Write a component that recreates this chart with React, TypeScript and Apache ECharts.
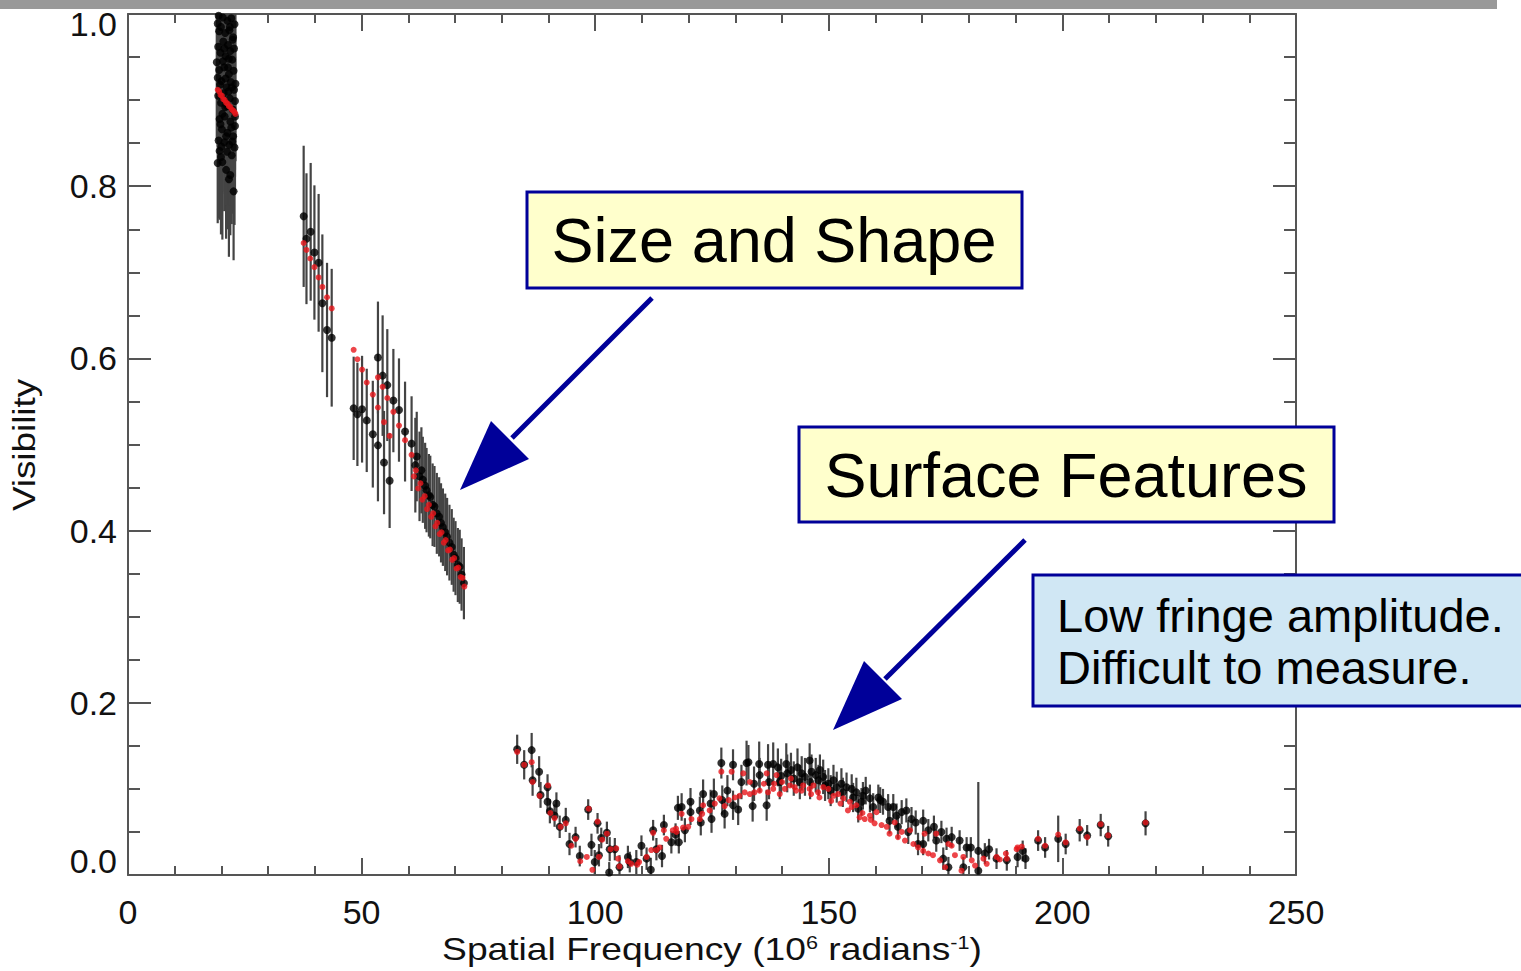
import React, { useEffect, useRef } from "react";
import * as echarts from "echarts";

type Obs = [number, number, number];
type Mod = [number, number];

// ---------- Data (x: spatial frequency, y: visibility, e: error) ----------
const obsShortBaseline: Obs[] = [
  [19.2, 0.989, 0.08], [19.0, 0.944, 0.09], [19.2, 0.926, 0.08], [19.6, 0.841, 0.08], [19.2, 0.827, 0.07],
  [20.2, 0.828, 0.09], [21.0, 0.819, 0.08], [21.6, 0.808, 0.09], [21.9, 0.813, 0.07], [22.6, 0.794, 0.08],
  [23.0, 0.919, 0.09], [22.9, 0.870, 0.08], [22.9, 0.881, 0.07],
  [19.4, 0.998, 0.08], [19.9, 0.985, 0.09], [20.3, 0.996, 0.07], [20.8, 0.978, 0.08], [21.3, 0.992, 0.09],
  [21.7, 0.981, 0.08], [22.1, 0.995, 0.07], [22.5, 0.973, 0.08], [22.8, 0.988, 0.09],
  [19.3, 0.962, 0.08], [19.8, 0.955, 0.07], [20.4, 0.968, 0.09], [20.9, 0.951, 0.08], [21.4, 0.964, 0.08],
  [21.9, 0.957, 0.09], [22.3, 0.947, 0.08], [22.7, 0.960, 0.07],
  [19.5, 0.935, 0.09], [20.0, 0.922, 0.08], [20.6, 0.938, 0.08], [21.1, 0.915, 0.09], [21.6, 0.930, 0.07],
  [22.0, 0.921, 0.08], [22.6, 0.934, 0.09],
  [19.3, 0.905, 0.08], [19.9, 0.897, 0.09], [20.5, 0.908, 0.07], [21.2, 0.893, 0.08], [21.8, 0.902, 0.08],
  [22.4, 0.889, 0.09], [22.9, 0.899, 0.08],
  [19.6, 0.878, 0.08], [20.1, 0.866, 0.07], [20.7, 0.881, 0.09], [21.3, 0.862, 0.08], [21.9, 0.875, 0.08],
  [22.5, 0.858, 0.09],
  [19.4, 0.853, 0.09], [20.0, 0.846, 0.08], [20.6, 0.851, 0.08], [21.2, 0.840, 0.09], [21.7, 0.848, 0.07],
  [22.2, 0.836, 0.08], [22.8, 0.845, 0.09],
  [19.8, 0.872, 0.08], [20.9, 0.925, 0.08], [21.5, 0.910, 0.09], [22.2, 0.915, 0.08], [20.3, 0.945, 0.07],
  [21.6, 0.948, 0.08], [22.4, 0.970, 0.09], [19.5, 0.980, 0.08], [20.6, 0.960, 0.09],
  [19.7, 0.918, 0.08], [20.8, 0.892, 0.08], [22.1, 0.868, 0.09], [21.0, 0.858, 0.08], [22.7, 0.912, 0.08],
  [20.2, 0.884, 0.09], [21.4, 0.938, 0.08], [22.3, 0.852, 0.08], [19.9, 0.834, 0.09], [21.8, 0.985, 0.08],
];

const obsMidA: Obs[] = [
  [37.6, 0.765, 0.082], [38.2, 0.739, 0.076], [39.1, 0.747, 0.08], [39.9, 0.723, 0.078],
  [40.8, 0.711, 0.08], [41.6, 0.664, 0.08], [42.6, 0.633, 0.078], [43.6, 0.624, 0.08],
];

const obsMidB: Obs[] = [
  [48.3, 0.542, 0.06], [49.1, 0.535, 0.06], [50.1, 0.541, 0.062], [51.1, 0.528, 0.06], [52.4, 0.512, 0.062],
  [53.5, 0.499, 0.065], [53.5, 0.601, 0.065], [54.5, 0.580, 0.07], [54.8, 0.479, 0.06], [55.5, 0.569, 0.065],
  [56.0, 0.458, 0.055], [56.8, 0.551, 0.06], [58.0, 0.540, 0.06], [59.3, 0.515, 0.058],
];

const obsMidC: Obs[] = [
  [60.7, 0.501, 0.055], [61.5, 0.476, 0.055], [61.8, 0.486, 0.052], [62.4, 0.463, 0.052], [62.8, 0.470, 0.05],
  [63.1, 0.459, 0.05], [63.6, 0.452, 0.05], [63.9, 0.447, 0.049], [64.4, 0.441, 0.048], [64.7, 0.439, 0.048],
  [65.2, 0.430, 0.048], [65.6, 0.428, 0.047], [66.1, 0.420, 0.047], [66.6, 0.416, 0.046], [67.0, 0.409, 0.046],
  [67.4, 0.404, 0.045], [67.9, 0.398, 0.045], [68.3, 0.393, 0.045], [68.8, 0.386, 0.044], [69.3, 0.381, 0.044],
  [69.7, 0.372, 0.043], [70.1, 0.368, 0.043], [70.6, 0.360, 0.043], [71.0, 0.358, 0.043], [71.4, 0.349, 0.042],
  [71.9, 0.339, 0.042],
];

const obsFirstNull: Obs[] = [
  [83.3, 0.146, 0.017], [84.8, 0.128, 0.017], [86.4, 0.145, 0.02], [86.6, 0.110, 0.018], [88.0, 0.120, 0.018],
  [88.3, 0.093, 0.015], [89.8, 0.102, 0.015], [89.8, 0.085, 0.014], [90.3, 0.074, 0.014], [91.3, 0.069, 0.013],
  [91.7, 0.083, 0.013], [92.4, 0.056, 0.013], [93.7, 0.064, 0.014], [94.5, 0.036, 0.013], [95.8, 0.044, 0.012],
  [96.7, 0.022, 0.012], [98.5, 0.076, 0.012], [99.2, 0.035, 0.013], [99.9, 0.015, 0.014], [100.5, 0.060, 0.012],
  [100.8, 0.023, 0.013], [101.3, 0.043, 0.012], [102.5, 0.049, 0.013], [103.0, 0.003, 0.012], [103.1, 0.030, 0.014],
  [104.2, 0.030, 0.013], [105.2, 0.009, 0.014], [107.0, 0.021, 0.013], [107.4, 0.015, 0.012], [108.8, 0.015, 0.014],
  [109.9, 0.034, 0.012], [111.0, 0.019, 0.013], [111.9, 0.006, 0.014], [112.4, 0.052, 0.012], [113.1, 0.030, 0.013],
  [114.3, 0.022, 0.013], [114.7, 0.058, 0.012], [116.3, 0.038, 0.013], [117.2, 0.047, 0.013], [117.7, 0.078, 0.014],
];

const obsSecondLobe: Obs[] = [
  [117.9, 0.038, 0.013], [118.5, 0.079, 0.016], [119.2, 0.052, 0.014], [120.4, 0.085, 0.016], [120.4, 0.073, 0.015],
  [122.4, 0.075, 0.016], [122.6, 0.061, 0.015], [123.1, 0.094, 0.017], [124.7, 0.083, 0.016], [124.9, 0.065, 0.016],
  [125.4, 0.094, 0.018], [127.0, 0.130, 0.018], [127.2, 0.087, 0.017], [127.7, 0.071, 0.017], [128.3, 0.098, 0.018],
  [129.5, 0.128, 0.018], [129.5, 0.081, 0.017], [130.6, 0.076, 0.018], [131.3, 0.108, 0.02], [132.4, 0.130, 0.026],
  [132.8, 0.131, 0.02], [133.7, 0.080, 0.018], [134.0, 0.106, 0.02], [135.1, 0.129, 0.026], [135.2, 0.116, 0.02],
  [136.7, 0.081, 0.018], [137.0, 0.128, 0.024], [137.2, 0.108, 0.02], [138.1, 0.129, 0.025], [139.1, 0.125, 0.022],
  [139.5, 0.108, 0.02], [140.9, 0.129, 0.024], [141.1, 0.118, 0.022], [141.9, 0.122, 0.02], [143.3, 0.125, 0.022],
  [144.2, 0.118, 0.02], [144.9, 0.114, 0.022], [145.9, 0.133, 0.02], [146.3, 0.120, 0.02], [147.2, 0.116, 0.02],
  [148.1, 0.122, 0.018], [148.8, 0.114, 0.02], [149.2, 0.104, 0.018], [151.0, 0.110, 0.018], [151.7, 0.102, 0.018],
  [139.8, 0.115, 0.02], [142.5, 0.112, 0.02], [143.8, 0.108, 0.02], [146.0, 0.108, 0.02], [147.8, 0.110, 0.018],
  [149.9, 0.106, 0.018], [150.4, 0.098, 0.018], [153.0, 0.096, 0.017], [155.2, 0.090, 0.017], [157.0, 0.085, 0.016],
  [152.7, 0.106, 0.018], [153.8, 0.102, 0.017], [154.9, 0.100, 0.017], [155.9, 0.096, 0.017], [156.3, 0.077, 0.016],
  [157.3, 0.092, 0.016], [157.9, 0.098, 0.016], [158.8, 0.089, 0.016], [159.5, 0.079, 0.016], [160.6, 0.090, 0.015],
  [161.0, 0.087, 0.015], [161.6, 0.085, 0.015], [162.7, 0.079, 0.015], [163.0, 0.063, 0.015], [163.8, 0.079, 0.015],
  [164.5, 0.069, 0.014], [164.8, 0.056, 0.014], [165.6, 0.073, 0.014], [166.6, 0.075, 0.014], [167.0, 0.050, 0.014],
  [167.7, 0.065, 0.014], [168.6, 0.061, 0.014], [169.1, 0.036, 0.013], [170.2, 0.063, 0.013], [170.2, 0.036, 0.013],
  [171.3, 0.052, 0.013], [172.5, 0.056, 0.013], [173.0, 0.040, 0.013], [174.1, 0.050, 0.013], [174.5, 0.019, 0.013],
  [175.2, 0.042, 0.013], [175.6, 0.009, 0.012], [176.3, 0.044, 0.012], [178.0, 0.040, 0.012], [178.8, 0.009, 0.012],
  [179.5, 0.032, 0.012], [180.4, 0.032, 0.012], [182.0, 0.028, 0.08], [182.0, 0.005, 0.012], [183.4, 0.025, 0.012],
  [184.3, 0.030, 0.012], [185.9, 0.019, 0.012], [188.1, 0.017, 0.012],
];

const obsTail: Obs[] = [
  [190.4, 0.021, 0.012], [191.5, 0.028, 0.012], [192.1, 0.019, 0.012], [194.8, 0.040, 0.012], [196.3, 0.032, 0.012],
  [199.1, 0.042, 0.027], [200.7, 0.036, 0.012], [203.7, 0.052, 0.013], [205.3, 0.046, 0.012], [208.2, 0.058, 0.013],
  [209.8, 0.045, 0.012], [217.8, 0.060, 0.014],
];

const modelShortBaseline: Mod[] = [
  [19.2, 0.912], [19.5, 0.910], [19.8, 0.906], [20.1, 0.905], [20.4, 0.901], [20.7, 0.900], [21.0, 0.897],
  [21.3, 0.896], [21.6, 0.893], [21.9, 0.892], [22.2, 0.889], [22.5, 0.888], [22.8, 0.886], [23.0, 0.884],
];

const modelMid: Mod[] = [
  [37.6, 0.734], [38.2, 0.726], [39.0, 0.716], [39.9, 0.706], [40.8, 0.694], [41.6, 0.683], [42.6, 0.671], [43.6, 0.658],
  [48.3, 0.610], [49.1, 0.599], [50.1, 0.587], [51.1, 0.572], [52.4, 0.558], [53.5, 0.578], [53.5, 0.543],
  [54.5, 0.567], [54.8, 0.526], [55.5, 0.554], [56.0, 0.510], [56.8, 0.538], [58.0, 0.522], [59.3, 0.505],
  [60.7, 0.488], [61.2, 0.463], [61.6, 0.470], [62.1, 0.449], [62.6, 0.455], [63.0, 0.436], [63.5, 0.440],
  [64.0, 0.425], [64.4, 0.430], [64.9, 0.416], [65.3, 0.420], [65.8, 0.405], [66.2, 0.409], [66.7, 0.396],
  [67.1, 0.398], [67.6, 0.386], [68.0, 0.389], [68.5, 0.377], [68.9, 0.378], [69.4, 0.366], [69.8, 0.368],
  [70.3, 0.356], [70.7, 0.357], [71.2, 0.346], [71.6, 0.345], [72.0, 0.335],
];

const modelFirstNull: Mod[] = [
  [83.3, 0.143], [84.8, 0.128], [86.4, 0.131], [86.6, 0.108], [88.1, 0.092], [89.9, 0.104], [90.4, 0.072],
  [91.3, 0.066], [92.6, 0.056], [93.7, 0.060], [94.9, 0.034], [95.8, 0.042], [96.8, 0.016], [98.2, 0.021],
  [98.6, 0.077], [99.4, 0.006], [100.5, 0.062], [100.8, 0.021], [101.5, 0.041], [102.5, 0.048], [103.3, 0.030],
  [104.5, 0.031], [104.9, 0.019], [105.2, 0.010], [107.0, 0.016], [107.7, 0.013], [109.0, 0.012], [109.4, 0.015],
  [111.0, 0.021], [112.0, 0.029], [112.4, 0.049], [113.1, 0.029], [113.8, 0.032], [114.7, 0.052], [115.2, 0.042],
  [116.6, 0.052], [117.3, 0.054],
];

const modelSecondLobe: Mod[] = [
  [117.4, 0.050], [118.5, 0.071], [118.8, 0.055], [119.9, 0.056], [120.6, 0.065], [122.4, 0.065], [122.9, 0.071],
  [123.1, 0.081], [124.5, 0.075], [125.6, 0.083], [126.6, 0.089], [127.0, 0.120], [127.7, 0.080], [128.6, 0.087],
  [129.2, 0.120], [129.9, 0.090], [130.9, 0.092], [131.7, 0.118], [132.0, 0.096], [133.1, 0.108], [133.1, 0.094],
  [134.1, 0.096], [135.2, 0.098], [136.1, 0.106], [136.7, 0.118], [137.0, 0.096], [138.1, 0.100], [138.8, 0.116],
  [139.5, 0.094], [140.6, 0.100], [141.7, 0.104], [141.9, 0.112], [142.7, 0.102], [144.2, 0.098], [144.5, 0.104],
  [145.9, 0.100], [146.7, 0.104], [147.7, 0.096], [148.8, 0.102], [149.9, 0.100], [151.0, 0.092], [152.0, 0.094],
  [138.3, 0.106], [140.0, 0.108], [143.0, 0.098], [146.2, 0.094], [148.0, 0.090], [150.5, 0.086], [152.5, 0.083],
  [154.5, 0.085], [157.2, 0.072], [159.0, 0.064],
  [153.1, 0.089], [154.1, 0.075], [154.9, 0.079], [155.9, 0.081], [156.6, 0.067], [157.7, 0.065], [158.8, 0.069],
  [159.8, 0.060], [160.2, 0.073], [161.3, 0.058], [162.4, 0.056], [163.0, 0.048], [164.1, 0.061], [164.8, 0.044],
  [165.6, 0.050], [166.3, 0.040], [167.4, 0.052], [168.1, 0.036], [169.1, 0.032], [170.2, 0.028], [170.5, 0.048],
  [171.3, 0.025], [172.3, 0.023], [173.0, 0.048], [173.8, 0.017], [174.9, 0.009], [175.6, 0.036], [176.3, 0.034],
  [177.0, 0.023], [178.4, 0.005], [178.8, 0.021], [180.6, 0.017], [181.3, 0.011], [183.1, 0.019], [183.8, 0.013],
  [185.9, 0.021], [186.6, 0.018], [187.9, 0.025], [188.1, 0.019],
];

const modelTail: Mod[] = [
  [190.2, 0.030], [190.4, 0.032], [191.3, 0.033], [194.8, 0.042], [196.3, 0.034], [199.1, 0.047], [200.7, 0.038],
  [203.7, 0.054], [205.3, 0.044], [208.2, 0.059], [209.8, 0.046], [217.8, 0.061],
];

const xTitle = "{a|Spatial Frequency (10}{s|6}{a| radians}{s|-1}{a|)}";
const yTitle = "Visibility";
const note1 = "Size and Shape";
const note2 = "Surface Features";
const note3a = "Low fringe amplitude.";
const note3b = "Difficult to measure.";

const allObs: Obs[] = [
  ...obsShortBaseline, ...obsMidA, ...obsMidB, ...obsMidC, ...obsFirstNull, ...obsSecondLobe, ...obsTail,
];
const allModel: Mod[] = [
  ...modelShortBaseline, ...modelMid, ...modelFirstNull, ...modelSecondLobe, ...modelTail,
];

const FONT = '"Liberation Sans", Arial, Helvetica, sans-serif';
const AXIS_COLOR = "#555";
const NAVY = "#000099";

export default function App() {
  const ref = useRef<HTMLDivElement | null>(null);

  useEffect(() => {
    if (!ref.current) return;
    const chart = echarts.init(ref.current, undefined, { renderer: "svg" });

    const xAxisBase = {
      type: "value",
      min: 0,
      max: 250,
      interval: 50,
      gridIndex: 0,
      splitLine: { show: false },
      minorSplitLine: { show: false },
      axisLine: { show: true, onZero: false, lineStyle: { color: AXIS_COLOR, width: 2 } },
      axisTick: { show: true, inside: true, length: 17, lineStyle: { color: AXIS_COLOR, width: 2 } },
      minorTick: { show: true, splitNumber: 5, length: 9, lineStyle: { color: AXIS_COLOR, width: 2 } },
    };
    const yAxisBase = {
      type: "value",
      min: 0,
      max: 1,
      interval: 0.2,
      gridIndex: 0,
      splitLine: { show: false },
      minorSplitLine: { show: false },
      axisLine: { show: true, onZero: false, lineStyle: { color: AXIS_COLOR, width: 2 } },
      axisTick: { show: true, inside: true, length: 23, lineStyle: { color: AXIS_COLOR, width: 2 } },
      minorTick: { show: true, splitNumber: 4, length: 12, lineStyle: { color: AXIS_COLOR, width: 2 } },
    };

    const labelFont = { fontSize: 34, fontFamily: FONT, color: "#111" };

    const textStyle = (text: string, size: number, align: string) => ({
      text,
      fontSize: size,
      fontFamily: FONT,
      fill: "#000",
      align,
      verticalAlign: "middle",
      textAlign: align,
      textVerticalAlign: "middle",
    });

    const Z = 1000;

    chart.setOption({
      animation: false,
      backgroundColor: "#ffffff",
      grid: { left: 128, top: 14, right: 225, bottom: 96, containLabel: false },
      xAxis: [
        {
          ...xAxisBase,
          position: "bottom",
          axisLabel: { show: true, margin: 20, ...labelFont },
        },
        {
          ...xAxisBase,
          position: "top",
          axisLabel: { show: false },
        },
      ],
      yAxis: [
        {
          ...yAxisBase,
          position: "left",
          axisLabel: {
            show: true,
            margin: 11,
            ...labelFont,
            formatter: (v: number) =>
              v === 1 ? "{t|1.0}" : v === 0 ? "{b|0.0}" : v.toFixed(1),
            rich: {
              t: { ...labelFont, padding: [20, 0, 0, 0] },
              b: { ...labelFont, padding: [0, 0, 28, 0] },
            },
          },
        },
        {
          ...yAxisBase,
          position: "right",
          axisLabel: { show: false },
        },
      ],
      series: [
        {
          type: "custom",
          name: "errors",
          xAxisIndex: 0,
          yAxisIndex: 0,
          clip: true,
          data: allObs,
          encode: { x: 0, y: 1 },
          renderItem: (params: any, api: any) => {
            const x = api.value(0);
            const y = api.value(1);
            const e = api.value(2);
            const p1 = api.coord([x, y - e]);
            const p2 = api.coord([x, y + e]);
            return {
              type: "line",
              shape: { x1: p1[0], y1: p1[1], x2: p2[0], y2: p2[1] },
              style: { stroke: "#444444", lineWidth: 2.2 },
            };
          },
        },
        {
          type: "scatter",
          name: "observed",
          xAxisIndex: 0,
          yAxisIndex: 0,
          data: allObs.map((d) => [d[0], d[1]]),
          symbol: "circle",
          symbolSize: 8,
          itemStyle: { color: "#000000" },
        },
        {
          type: "scatter",
          name: "model",
          xAxisIndex: 0,
          yAxisIndex: 0,
          data: allModel,
          symbol: "circle",
          symbolSize: 6,
          itemStyle: { color: "#e8161b" },
        },
      ],
      graphic: [
        {
          type: "rect",
          z: Z,
          shape: { x: 0, y: 0, width: 1497, height: 9 },
          style: { fill: "#999999" },
        },
        {
          type: "text",
          z: Z,
          x: 24,
          y: 445,
          rotation: Math.PI / 2,
          scaleX: 1.15,
          style: { ...textStyle(yTitle, 32, "center"), fill: "#111" },
        },
        {
          type: "text",
          z: Z,
          x: 712,
          y: 949,
          scaleX: 1.2,
          style: {
            ...textStyle(xTitle, 31, "center"),
            fill: "#111",
            rich: {
              a: { fontSize: 31, fontFamily: FONT, fill: "#111" },
              s: { fontSize: 18, fontFamily: FONT, fill: "#111", verticalAlign: "top" },
            },
          },
        },
        // Size and Shape box
        {
          type: "rect",
          z: Z,
          shape: { x: 527, y: 192, width: 495, height: 96 },
          style: { fill: "#ffffcc", stroke: NAVY, lineWidth: 3 },
        },
        { type: "text", z: Z + 1, x: 774, y: 240, style: textStyle(note1, 63, "center") },
        {
          type: "line",
          z: Z,
          shape: { x1: 652, y1: 298, x2: 512, y2: 438 },
          style: { stroke: NAVY, lineWidth: 5 },
        },
        {
          type: "polygon",
          z: Z,
          shape: { points: [[460, 490], [491, 421], [529, 459]] },
          style: { fill: NAVY },
        },
        // Surface Features box
        {
          type: "rect",
          z: Z,
          shape: { x: 799, y: 427, width: 535, height: 95 },
          style: { fill: "#ffffcc", stroke: NAVY, lineWidth: 3 },
        },
        { type: "text", z: Z + 1, x: 1066, y: 475, style: textStyle(note2, 63, "center") },
        {
          type: "line",
          z: Z,
          shape: { x1: 1025, y1: 540, x2: 885, y2: 679 },
          style: { stroke: NAVY, lineWidth: 5 },
        },
        {
          type: "polygon",
          z: Z,
          shape: { points: [[833, 730], [864, 661], [902, 699]] },
          style: { fill: NAVY },
        },
        // Low fringe amplitude box
        {
          type: "rect",
          z: Z,
          shape: { x: 1033, y: 575, width: 500, height: 131 },
          style: { fill: "#d0e7f4", stroke: NAVY, lineWidth: 3 },
        },
        { type: "text", z: Z + 1, x: 1057, y: 615, style: textStyle(note3a, 47, "left") },
        { type: "text", z: Z + 1, x: 1057, y: 667, style: textStyle(note3b, 47, "left") },
      ],
    } as any);

    return () => {
      chart.dispose();
    };
  }, []);

  return (
    <div
      ref={ref}
      style={{
        position: "fixed",
        left: 0,
        top: 0,
        width: 1521,
        height: 971,
        background: "#ffffff",
      }}
    />
  );
}
